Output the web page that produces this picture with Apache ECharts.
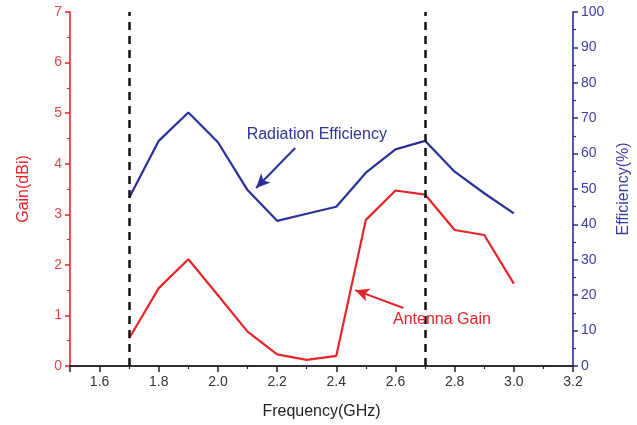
<!DOCTYPE html>
<html><head><meta charset="utf-8">
<script src="https://cdn.jsdelivr.net/npm/echarts@6/dist/echarts.min.js"></script>
<style>html,body{margin:0;padding:0;background:#fff}#c{width:637px;height:425px}</style>
</head><body><div id="c"></div>
<script>
const freq = [1.7,1.8,1.9,2.0,2.1,2.2,2.3,2.4,2.5,2.6,2.7,2.8,2.9,3.0];
const gain = [0.55,1.54,2.11,1.40,0.68,0.23,0.12,0.20,2.89,3.47,3.39,2.69,2.59,1.63];
const efficiency = [47.5,63.6,71.6,63.2,49.7,41.0,43.0,45.0,54.6,61.2,63.6,54.9,48.8,43.1];
const bandEdges = [1.7, 2.7];
const effLabel = {text:'Radiation Efficiency', at:[2.334,65.3], arrowFrom:[2.261,61.6], arrowTo:[2.129,50.3]};
const gainLabel = {text:'Antenna Gain', at:[2.757,0.91], arrowFrom:[2.627,1.146], arrowTo:[2.464,1.50]};

const RED = '#e5252b', BLUE = '#2b2f99';
const FONT = 'Liberation Sans';
const chart = echarts.init(document.getElementById('c'));
chart.setOption({
  backgroundColor:'#fff',
  animation:false,
  textStyle:{fontFamily:FONT},
  grid:{left:70,right:64,top:12,bottom:59,containLabel:false,outerBoundsMode:'none'},
  xAxis:[{
    type:'value', min:1.5, max:3.2, splitNumber:8,
    name:'Frequency(GHz)', nameLocation:'middle', nameGap:38,
    nameTextStyle:{color:'#222', fontSize:16, fontFamily:FONT},
    axisLine:{lineStyle:{color:'#222', width:1.6}},
    axisTick:{show:true, length:6, lineStyle:{color:'#222', width:1.5}},
    minorTick:{show:true, splitNumber:2, length:3, lineStyle:{color:'#222', width:1.2}},
    axisLabel:{color:'#333', fontSize:14, margin:9, showMinLabel:false, formatter:v=>v.toFixed(1)},
    splitLine:{show:false}
  },{
    type:'value', position:'top', min:1.5, max:3.2,
    axisLine:{lineStyle:{color:'#222', width:1.6}},
    axisTick:{show:false}, axisLabel:{show:false}, splitLine:{show:false}
  }],
  yAxis:[{
    type:'value', min:0, max:7, interval:1, position:'left',
    name:'Gain(dBi)', nameLocation:'middle', nameGap:38,
    nameTextStyle:{color:RED, fontSize:16, fontFamily:FONT},
    axisLine:{show:true, lineStyle:{color:RED, width:1.6}},
    axisTick:{show:true, length:5, lineStyle:{color:RED, width:1.5}},
    minorTick:{show:true, splitNumber:2, length:3, lineStyle:{color:RED, width:1.2}},
    axisLabel:{color:'#e0474a', fontSize:14, margin:8},
    splitLine:{show:false}
  },{
    type:'value', min:0, max:100, interval:10, position:'right',
    name:'Efficiency(%)', nameLocation:'middle', nameGap:43,
    nameTextStyle:{color:'#3c3fa0', fontSize:16, fontFamily:FONT},
    axisLine:{show:true, lineStyle:{color:BLUE, width:1.6}},
    axisTick:{show:true, length:5, lineStyle:{color:BLUE, width:1.5}},
    minorTick:{show:true, splitNumber:2, length:3, lineStyle:{color:BLUE, width:1.2}},
    axisLabel:{color:'#3c3fa0', fontSize:14, margin:8},
    splitLine:{show:false}
  }],
  series:[{
    type:'line', name:'Antenna Gain', xAxisIndex:0, yAxisIndex:0,
    data:freq.map((f,i)=>[f,gain[i]]),
    symbol:'none', lineStyle:{color:RED, width:2.2}, itemStyle:{color:RED},
    markLine:{
      silent:true, symbol:'none', label:{show:false},
      lineStyle:{color:'#111', width:2.5, type:[8,6]},
      data: bandEdges.map(x=>({xAxis:x}))
    },
    markPoint:{
      silent:true, symbol:'rect', symbolSize:1, itemStyle:{color:'rgba(0,0,0,0)'},
      label:{show:true, position:'inside', color:RED, fontSize:16, fontFamily:FONT, formatter:gainLabel.text},
      data:[{coord:gainLabel.at}]
    }
  },{
    type:'line', name:'Radiation Efficiency', xAxisIndex:0, yAxisIndex:1,
    data:freq.map((f,i)=>[f,efficiency[i]]),
    symbol:'none', lineStyle:{color:BLUE, width:2.2}, itemStyle:{color:BLUE},
    markPoint:{
      silent:true, symbol:'rect', symbolSize:1, itemStyle:{color:'rgba(0,0,0,0)'},
      label:{show:true, position:'inside', color:'#2f3595', fontSize:16, fontFamily:FONT, formatter:effLabel.text},
      data:[{coord:effLabel.at}]
    },
    markLine:{
      silent:true, symbol:['none','arrow'], symbolSize:[10,14], label:{show:false},
      lineStyle:{color:BLUE, width:2, type:'solid'},
      data:[[{coord:effLabel.arrowFrom},{coord:effLabel.arrowTo}]]
    }
  },{
    type:'line', name:'gainArrow', xAxisIndex:0, yAxisIndex:0, data:[], symbol:'none',
    markLine:{
      silent:true, symbol:['none','arrow'], symbolSize:[10,14], label:{show:false},
      lineStyle:{color:RED, width:2, type:'solid'},
      data:[[{coord:gainLabel.arrowFrom},{coord:gainLabel.arrowTo}]]
    }
  }]
});
</script></body></html>
